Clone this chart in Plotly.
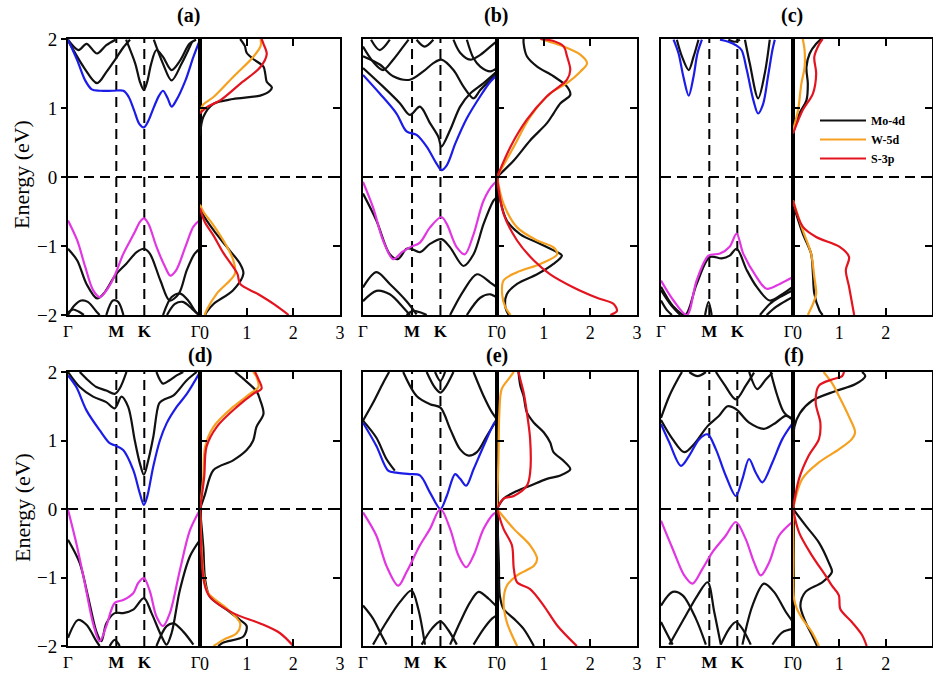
import plotly.graph_objects as go

# ---------------- data ----------------
KTICK_VALS = [0.0, 0.366, 0.578, 1.0]          # Γ, M, K, Γ along normalised k-path
KTICK_TEXT = ["Γ", "<b>M</b>", "<b>K</b>", "Γ\u2002"]
E_TICKS = [-2, -1, 0, 1, 2]
DOS_TICKS = [0, 1, 2, 3]
DOS_TICK_TEXT = ["\u20020", "1", "2", "3"]
PANEL_LABELS = ["(a)", "(b)", "(c)", "(d)", "(e)", "(f)"]
SPECIES = ["Mo-4d", "W-5d", "S-3p"]

# ----- panel (a) -----
A_BLUE = [(0.0, 1.99), (0.07, 1.69), (0.13, 1.40), (0.18, 1.27), (0.24, 1.25), (0.34, 1.25), (0.42, 1.25),
          (0.46, 1.16), (0.50, 0.97), (0.54, 0.77), (0.575, 0.72), (0.61, 0.82), (0.65, 1.01), (0.69, 1.18),
          (0.72, 1.25), (0.755, 1.14), (0.785, 1.02), (0.82, 1.11), (0.89, 1.40), (0.95, 1.74), (1.0, 1.99)]
A_MAGENTA = [(0.0, -0.63), (0.07, -0.92), (0.13, -1.30), (0.19, -1.64), (0.24, -1.74), (0.31, -1.59),
             (0.36, -1.40), (0.42, -1.11), (0.50, -0.82), (0.545, -0.65), (0.575, -0.60), (0.61, -0.68),
             (0.67, -1.01), (0.735, -1.30), (0.775, -1.43), (0.82, -1.35), (0.89, -1.01), (0.95, -0.72), (1.0, -0.62)]
A_BLACK = [
    [(0.0, -1.04), (0.07, -1.21), (0.14, -1.55), (0.22, -1.76), (0.27, -1.69), (0.36, -1.42), (0.44, -1.26),
     (0.52, -1.09), (0.575, -1.04), (0.62, -1.11), (0.70, -1.50), (0.77, -1.79), (0.84, -1.69), (0.90, -1.35),
     (0.96, -1.11), (1.0, -1.04)],
    [(0.0, -2.0), (0.05, -1.86), (0.10, -1.79), (0.15, -1.81), (0.22, -1.96), (0.24, -2.0)],
    [(0.0, -1.96), (0.04, -1.92), (0.08, -1.95), (0.12, -2.0)],
    [(0.29, -2.0), (0.34, -1.79), (0.38, -1.81), (0.42, -2.0)],
    [(0.72, -2.0), (0.785, -1.74), (0.85, -1.69), (0.91, -1.79), (0.97, -1.96), (1.0, -2.0)],
    [(0.75, -2.0), (0.81, -1.84), (0.87, -1.81), (0.94, -1.91), (0.99, -2.0)],
    [(0.0, 1.98), (0.12, 1.59), (0.22, 1.36), (0.29, 1.52), (0.36, 1.71), (0.42, 1.88), (0.47, 1.99)],
    [(0.44, 1.99), (0.51, 1.64), (0.545, 1.38), (0.575, 1.26), (0.60, 1.38), (0.63, 1.64), (0.67, 1.84),
     (0.72, 1.74), (0.785, 1.55), (0.85, 1.69), (0.92, 1.93), (0.97, 1.99)],
    [(0.65, 1.99), (0.72, 1.64), (0.785, 1.40), (0.86, 1.64), (0.94, 1.96)],
    [(0.0, 1.99), (0.08, 1.84), (0.14, 1.93), (0.22, 1.79), (0.29, 1.91), (0.36, 1.99)],
]
A_MO = [[(0, 0.6), (0.07, 0.87), (0.29, 1.06), (0.71, 1.13), (1.29, 1.18), (1.50, 1.25), (1.54, 1.30), (1.43, 1.38),
         (1.40, 1.49), (1.36, 1.60), (1.14, 1.71), (1.0, 1.80), (0.96, 1.90), (0.86, 2.0)],
        [(0, -0.43), (0.07, -0.55), (0.29, -0.77), (0.57, -1.01), (0.86, -1.26), (0.93, -1.40), (0.71, -1.64),
         (0.29, -1.84), (0.14, -1.96), (0.11, -2.0)]]
A_W = [[(0, 0.95), (0.07, 1.05), (0.29, 1.16), (0.71, 1.45), (1.14, 1.74), (1.30, 1.90), (1.30, 2.0)],
       [(0, -0.40), (0.07, -0.50), (0.29, -0.70), (0.57, -1.0), (0.71, -1.2), (0.75, -1.40), (0.36, -1.69),
        (0.14, -1.93), (0.1, -2.0)]]
A_S = [[(0, 0.92), (0.14, 1.01), (0.43, 1.11), (0.86, 1.35), (1.29, 1.59), (1.43, 1.78), (1.36, 1.93), (1.32, 2.0)],
       [(0, -0.45), (0.1, -0.65), (0.29, -0.85), (0.5, -1.1), (0.8, -1.4), (0.86, -1.55), (1.25, -1.7), (1.6, -1.85),
        (1.9, -2.0)]]

# ----- panel (b) -----
B_BLUE = [(0.0, 1.48), (0.125, 1.21), (0.25, 0.92), (0.325, 0.66), (0.40, 0.61), (0.475, 0.44), (0.55, 0.19),
          (0.585, 0.10), (0.625, 0.17), (0.69, 0.49), (0.775, 0.85), (0.875, 1.17), (0.95, 1.38), (1.0, 1.48)]
B_MAGENTA = [(0.0, -0.07), (0.075, -0.44), (0.15, -0.92), (0.225, -1.19), (0.29, -1.09), (0.35, -1.02),
             (0.425, -0.95), (0.50, -0.73), (0.585, -0.58), (0.625, -0.68), (0.70, -1.02), (0.76, -1.12),
             (0.825, -0.83), (0.90, -0.34), (0.975, -0.10), (1.0, -0.07)]
B_BLACK = [
    [(0.0, -0.24), (0.10, -0.63), (0.20, -1.12), (0.26, -1.19), (0.325, -1.04), (0.36, -1.04), (0.425, -1.09),
     (0.50, -0.97), (0.585, -0.90), (0.65, -1.02), (0.75, -1.29), (0.825, -1.12), (0.90, -0.68), (0.975, -0.34),
     (1.0, -0.29)],
    [(0.0, -1.60), (0.10, -1.38), (0.20, -1.55), (0.325, -1.80), (0.40, -1.99)],
    [(0.0, -1.80), (0.10, -1.65), (0.20, -1.70), (0.30, -1.89), (0.35, -2.0)],
    [(0.325, -2.0), (0.375, -1.94), (0.44, -1.97), (0.475, -2.0)],
    [(0.65, -2.0), (0.75, -1.65), (0.85, -1.41), (0.95, -1.53), (1.0, -1.60)],
    [(0.775, -2.0), (0.875, -1.75), (0.95, -1.70), (1.0, -1.75)],
    [(0.0, 1.58), (0.15, 1.31), (0.275, 1.07), (0.35, 0.90), (0.425, 1.02), (0.50, 0.78), (0.5625, 0.58),
     (0.585, 0.44), (0.65, 0.68), (0.725, 1.02), (0.80, 1.21), (0.90, 1.36), (1.0, 1.53)],
    [(0.0, 1.75), (0.125, 1.63), (0.225, 1.46), (0.35, 1.41), (0.45, 1.53), (0.525, 1.65), (0.585, 1.70),
     (0.675, 1.55), (0.75, 1.31), (0.825, 1.14), (0.875, 1.26), (0.95, 1.41), (1.0, 1.53)],
    [(0.0, 1.89), (0.075, 1.67), (0.15, 1.55), (0.225, 1.70), (0.30, 1.89), (0.34, 1.99)],
    [(0.06, 1.99), (0.125, 1.84), (0.20, 1.99)],
    [(0.775, 1.99), (0.825, 1.72), (0.875, 1.60), (0.95, 1.53), (1.0, 1.58)],
    [(0.40, 1.99), (0.46, 1.89), (0.525, 1.99)],
    [(0.675, 1.99), (0.725, 1.80), (0.80, 1.70), (0.875, 1.77), (0.95, 1.89), (1.0, 1.97)],
]
B_MO = [[(0, 0), (0.36, 0.24), (0.71, 0.53), (1.07, 0.78), (1.21, 0.92), (1.36, 1.07), (1.57, 1.19), (1.50, 1.31),
         (1.21, 1.46), (0.86, 1.60), (0.64, 1.75), (0.57, 1.94), (0.57, 2.0)],
        [(0, 0), (0.07, -0.34), (0.21, -0.63), (0.5, -0.83), (0.93, -0.97), (1.29, -1.09), (1.39, -1.14),
         (1.21, -1.26), (0.86, -1.41), (0.43, -1.55), (0.21, -1.70), (0.18, -1.89), (0.25, -2.0)]]
B_W = [[(0, 0), (0.36, 0.44), (0.71, 0.87), (1.14, 1.21), (1.5, 1.36), (1.79, 1.53), (1.93, 1.65), (1.79, 1.77),
        (1.43, 1.89), (1.07, 1.97), (0.93, 2.0)],
       [(0, 0), (0.14, -0.39), (0.43, -0.73), (0.86, -0.92), (1.21, -1.02), (1.29, -1.12), (0.93, -1.26),
        (0.43, -1.38), (0.14, -1.50), (0.11, -1.70), (0.18, -1.89), (0.29, -2.0)]]
B_S = [[(0, 0), (0.29, 0.44), (0.64, 0.83), (1.07, 1.17), (1.5, 1.41), (1.57, 1.55), (1.5, 1.75), (1.43, 1.89),
        (1.21, 1.97), (0.93, 2.0)],
       [(0, 0), (0.14, -0.53), (0.43, -0.92), (0.79, -1.21), (1.14, -1.41), (1.64, -1.60), (2.14, -1.75),
        (2.5, -1.84), (2.57, -1.94), (2.43, -2.0)]]

# ----- panel (c) -----
C_BLUE = [
    [(0.095, 1.99), (0.133, 1.79), (0.17, 1.45), (0.21, 1.18), (0.246, 1.45), (0.276, 1.79), (0.31, 1.99)],
    [(0.447, 1.99), (0.51, 1.96), (0.568, 1.91), (0.61, 1.84), (0.65, 1.55), (0.70, 1.11), (0.736, 0.92),
     (0.774, 1.06), (0.81, 1.45), (0.844, 1.84), (0.862, 1.99)],
]
C_MAGENTA = [(0.0, -1.50), (0.095, -1.79), (0.196, -2.0), (0.27, -1.50), (0.36, -1.14), (0.447, -1.11),
             (0.52, -1.01), (0.573, -0.82), (0.623, -1.11), (0.724, -1.45), (0.80, -1.62), (0.90, -1.55),
             (1.0, -1.45)]
C_BLACK = [
    [(0.12, 1.99), (0.16, 1.74), (0.21, 1.55), (0.246, 1.74), (0.284, 1.99)],
    [(0.636, 1.99), (0.673, 1.64), (0.736, 1.14), (0.786, 1.50), (0.824, 1.99)],
    [(0.51, 1.99), (0.56, 1.96), (0.598, 1.99)],
    [(0.0, -1.59), (0.095, -1.88), (0.183, -2.0), (0.27, -1.55), (0.37, -1.16), (0.46, -1.18), (0.52, -1.14),
     (0.573, -1.04), (0.65, -1.35), (0.724, -1.59), (0.824, -1.79), (0.925, -1.69), (1.0, -1.59)],
    [(0.0, -1.64), (0.07, -1.84), (0.146, -2.0)],
    [(0.0, -1.79), (0.045, -1.93), (0.083, -2.0)],
    [(0.334, -2.0), (0.36, -1.81), (0.384, -2.0)],
    [(0.75, -2.0), (0.824, -1.84), (0.90, -1.74), (1.0, -1.64)],
    [(0.80, -2.0), (0.874, -1.88), (0.95, -1.79), (1.0, -1.74)],
]
C_MO = [[(0, 0.63), (0.14, 0.92), (0.29, 1.11), (0.32, 1.35), (0.29, 1.59), (0.36, 1.79), (0.5, 1.93), (0.61, 2.0)],
        [(0, -0.39), (0.21, -0.82), (0.39, -1.11), (0.43, -1.40), (0.46, -1.69), (0.57, -1.93), (0.64, -2.0)]]
C_W = [[(0, 0.68), (0.11, 0.97), (0.18, 1.35), (0.25, 1.59), (0.25, 1.84), (0.21, 2.0)],
       [(0, -0.34), (0.21, -0.77), (0.39, -1.11), (0.46, -1.45), (0.5, -1.69), (0.43, -1.84), (0.32, -2.0)]]
C_S = [[(0, 0.63), (0.21, 0.97), (0.43, 1.21), (0.5, 1.50), (0.46, 1.74), (0.57, 1.93), (0.64, 2.0)],
       [(0, -0.34), (0.21, -0.72), (0.5, -0.87), (1.0, -1.01), (1.21, -1.16), (1.14, -1.35), (1.21, -1.59),
        (1.32, -2.0)]]

# ----- panel (d) -----
D_BLUE = [(0.0, 1.95), (0.063, 1.78), (0.14, 1.44), (0.24, 1.15), (0.316, 0.96), (0.354, 0.93), (0.418, 0.86),
          (0.494, 0.57), (0.544, 0.23), (0.575, 0.06), (0.60, 0.18), (0.646, 0.62), (0.696, 1.0), (0.747, 1.25),
          (0.823, 1.49), (0.90, 1.68), (1.0, 2.0)]
D_MAGENTA = [(0.0, -0.01), (0.063, -0.50), (0.127, -1.08), (0.19, -1.67), (0.24, -1.93), (0.29, -1.71),
             (0.354, -1.37), (0.418, -1.33), (0.494, -1.23), (0.532, -1.08), (0.575, -1.01), (0.62, -1.20),
             (0.67, -1.57), (0.72, -1.71), (0.772, -1.52), (0.848, -0.89), (0.924, -0.31), (1.0, -0.01)]
D_BLACK = [
    [(0.0, -0.45), (0.089, -0.79), (0.152, -1.28), (0.215, -1.79), (0.253, -1.93), (0.29, -1.67), (0.354, -1.52),
     (0.418, -1.52), (0.494, -1.47), (0.575, -1.30), (0.633, -1.52), (0.709, -1.86), (0.747, -1.98),
     (0.785, -1.81), (0.848, -1.18), (0.924, -0.69), (1.0, -0.45)],
    [(0.0, -1.88), (0.076, -1.62), (0.14, -1.69), (0.215, -1.93), (0.24, -2.0)],
    [(0.67, -2.0), (0.747, -1.71), (0.80, -1.67), (0.873, -1.79), (0.95, -1.98)],
    [(0.316, -2.0), (0.354, -1.91), (0.392, -2.0)],
    [(0.0, 2.0), (0.089, 1.78), (0.19, 1.64), (0.29, 1.56), (0.354, 1.47), (0.405, 1.64), (0.456, 1.49),
     (0.506, 1.0), (0.544, 0.67), (0.575, 0.50), (0.608, 0.71), (0.646, 1.05), (0.69, 1.54), (0.72, 1.59),
     (0.80, 1.66), (0.90, 1.88), (0.975, 2.0)],
    [(0.089, 2.0), (0.152, 1.88), (0.215, 1.78), (0.29, 1.73), (0.354, 1.68), (0.392, 1.76), (0.443, 2.0)],
    [(0.67, 2.0), (0.72, 1.83), (0.77, 1.88), (0.823, 1.95), (0.873, 2.0)],
]
D_MO = [[(0, 0), (0.1, 0.2), (0.29, 0.57), (0.71, 0.71), (1.0, 0.86), (1.14, 1.0), (1.21, 1.2), (1.36, 1.39),
         (1.29, 1.59), (1.21, 1.72), (0.93, 1.9), (0.75, 2.0)],
        [(0, 0), (0.07, -0.55), (0.11, -1.03), (0.21, -1.28), (0.57, -1.47), (0.86, -1.62), (1.0, -1.71),
         (0.93, -1.86), (0.5, -1.95), (0.39, -2.0)]]
D_W = [[(0, 0), (0.07, 0.47), (0.11, 0.91), (0.29, 1.20), (0.71, 1.49), (1.07, 1.68), (1.25, 1.78), (1.21, 1.93),
        (1.14, 2.0)],
       [(0, 0), (0.09, -1.03), (0.18, -1.23), (0.57, -1.45), (0.86, -1.67), (0.79, -1.81), (0.5, -1.91),
        (0.29, -2.0)]]
D_S = [[(0, 0), (0.09, 0.47), (0.14, 0.91), (0.36, 1.20), (0.79, 1.49), (1.14, 1.68), (1.32, 1.76), (1.25, 1.90),
        (1.18, 2.0)],
       [(0, 0), (0.09, -1.08), (0.21, -1.28), (0.71, -1.52), (1.29, -1.67), (1.71, -1.81), (2.0, -2.0)]]

# ----- panel (e) -----
E_BLUE = [(0.0, 1.26), (0.10, 0.92), (0.1875, 0.56), (0.25, 0.53), (0.35, 0.51), (0.425, 0.49), (0.50, 0.24),
          (0.578, 0.0), (0.625, 0.19), (0.6875, 0.51), (0.725, 0.44), (0.77, 0.34), (0.825, 0.58), (0.90, 0.92),
          (0.975, 1.24), (1.0, 1.31)]
E_MAGENTA = [(0.0, -0.05), (0.10, -0.39), (0.175, -0.83), (0.2625, -1.12), (0.325, -0.92), (0.425, -0.53),
             (0.50, -0.29), (0.578, 0.0), (0.65, -0.29), (0.7125, -0.68), (0.77, -0.85), (0.825, -0.68),
             (0.90, -0.29), (0.975, -0.07), (1.0, -0.05)]
E_BLACK = [
    [(0.0, 1.29), (0.075, 1.55), (0.15, 1.84), (0.195, 2.0)],
    [(0.0, 1.29), (0.10, 1.04), (0.175, 0.73), (0.2375, 0.56)],
    [(0.30, 2.0), (0.40, 1.65), (0.50, 1.53), (0.578, 1.48), (0.65, 1.17), (0.725, 0.87), (0.7875, 0.78),
     (0.85, 0.83), (0.925, 1.07), (1.0, 1.31)],
    [(0.475, 2.0), (0.5375, 1.77), (0.578, 1.70), (0.6125, 1.77), (0.675, 2.0)],
    [(0.5375, 2.0), (0.578, 1.87), (0.6125, 2.0)],
    [(0.825, 2.0), (0.90, 1.65), (0.9625, 1.41), (1.0, 1.31)],
    [(0.0, -1.41), (0.075, -1.60), (0.1375, -1.84), (0.175, -1.98)],
    [(0.075, -1.98), (0.175, -1.65), (0.275, -1.36), (0.3625, -1.19), (0.4125, -1.46), (0.4625, -1.98)],
    [(0.4375, -1.98), (0.5125, -1.75), (0.578, -1.64), (0.6375, -1.77), (0.70, -1.98)],
    [(0.65, -1.98), (0.725, -1.65), (0.80, -1.36), (0.8625, -1.21), (0.9375, -1.31), (1.0, -1.43)],
    [(0.825, -1.98), (0.90, -1.75), (0.9625, -1.60), (1.0, -1.55)],
]
E_MO = [[(0, 0), (0.14, 0.15), (0.36, 0.24), (0.71, 0.34), (1.07, 0.44), (1.36, 0.49), (1.57, 0.58), (1.43, 0.70),
         (1.21, 0.83), (1.14, 0.97), (1.0, 1.12), (0.79, 1.26), (0.64, 1.41), (0.57, 1.65), (0.5, 1.80),
         (0.46, 2.0)],
        [(0, 0), (0.04, -0.78), (0.06, -1.26), (0.14, -1.46), (0.36, -1.60), (0.57, -1.75), (0.79, -2.0)]]
E_W = [[(0, 0), (0.03, 0.7), (0.05, 1.4), (0.1, 1.75), (0.25, 1.9), (0.36, 2.0)],
       [(0, 0), (0.36, -0.29), (0.71, -0.53), (0.86, -0.73), (0.79, -0.83), (0.43, -0.97), (0.21, -1.12),
        (0.14, -1.36), (0.21, -1.65), (0.32, -1.84), (0.43, -2.0)]]
E_S = [[(0, 0), (0.14, 0.15), (0.36, 0.19), (0.64, 0.34), (0.71, 0.53), (0.71, 1.02), (0.64, 1.41), (0.57, 1.70),
        (0.5, 1.89), (0.46, 2.0)],
       [(0, 0), (0.14, -0.29), (0.32, -0.53), (0.36, -0.87), (0.43, -1.07), (0.71, -1.17), (1.0, -1.41),
        (1.29, -1.70), (1.71, -2.0)]]

# ----- panel (f) -----
F_BLUE = [(0.0, 1.24), (0.063, 0.97), (0.151, 0.63), (0.214, 0.78), (0.29, 1.02), (0.353, 1.09), (0.416, 0.87),
          (0.49, 0.49), (0.567, 0.19), (0.617, 0.44), (0.667, 0.73), (0.718, 0.53), (0.768, 0.39), (0.844, 0.68),
          (0.919, 1.02), (1.0, 1.26)]
F_MAGENTA = [(0.0, -0.17), (0.088, -0.58), (0.176, -0.97), (0.239, -1.09), (0.315, -0.87), (0.39, -0.63),
             (0.49, -0.39), (0.567, -0.19), (0.642, -0.44), (0.705, -0.78), (0.756, -0.97), (0.819, -0.78),
             (0.894, -0.39), (1.0, -0.18)]
F_BLACK = [
    [(0.0, 1.30), (0.088, 1.02), (0.176, 0.83), (0.252, 0.95), (0.353, 1.21), (0.44, 1.36), (0.504, 1.50),
     (0.567, 1.46), (0.668, 1.26), (0.78, 1.17), (0.87, 1.26), (0.945, 1.36), (1.0, 1.31)],
    [(0.0, 1.33), (0.063, 1.65), (0.126, 1.89), (0.159, 2.0)],
    [(0.416, 2.0), (0.479, 1.82), (0.567, 1.60), (0.642, 1.80), (0.705, 1.99)],
    [(0.668, 2.0), (0.73, 1.75), (0.794, 1.89), (0.844, 1.99)],
    [(0.831, 2.0), (0.882, 1.65), (0.932, 1.41), (1.0, 1.30)],
    [(0.214, 2.0), (0.277, 1.94), (0.34, 2.0)],
    [(0.0, -1.41), (0.088, -1.21), (0.164, -1.26), (0.264, -1.60), (0.34, -1.98)],
    [(0.063, -1.98), (0.189, -1.55), (0.277, -1.26), (0.353, -1.07), (0.403, -1.50), (0.453, -1.98)],
    [(0.453, -1.98), (0.516, -1.75), (0.567, -1.65), (0.617, -1.75), (0.68, -1.98)],
    [(0.617, -1.98), (0.693, -1.41), (0.78, -1.09), (0.856, -1.21), (0.945, -1.50), (1.0, -1.65)],
    [(0.0, -1.65), (0.05, -1.84), (0.088, -1.98)],
    [(0.844, -1.98), (0.919, -1.80), (1.0, -1.75)],
]
F_MO = [[(0, 0), (0.01, 0.6), (0.03, 1.2), (0.15, 1.4), (0.41, 1.58), (0.91, 1.72), (1.34, 1.82), (1.56, 1.94),
         (1.49, 2.0)],
        [(0, 0), (0.27, -0.24), (0.56, -0.49), (0.77, -0.78), (0.84, -0.92), (0.63, -1.07), (0.27, -1.21),
         (0.16, -1.41), (0.27, -1.65), (0.41, -1.84), (0.52, -2.0)]]
F_W = [[(0, 0), (0.2, 0.44), (0.56, 0.68), (0.99, 0.87), (1.27, 1.02), (1.34, 1.12), (1.2, 1.36), (0.99, 1.65),
        (0.84, 1.84), (0.66, 2.0)],
       [(0, 0), (0.01, -0.7), (0.02, -1.3), (0.08, -1.45), (0.2, -1.60), (0.41, -1.80), (0.56, -2.0)]]
F_S = [[(0, 0), (0.13, 0.44), (0.34, 0.78), (0.56, 1.02), (0.59, 1.26), (0.49, 1.55), (0.56, 1.80), (0.84, 1.89),
        (1.06, 1.94), (1.1, 2.0)],
       [(0, 0), (0.13, -0.34), (0.41, -0.68), (0.7, -0.97), (0.84, -1.12), (0.99, -1.26), (1.02, -1.46),
        (1.27, -1.65), (1.49, -1.84), (1.59, -2.0)]]

# ---------------- figure construction ----------------
W, H = 933, 673
BLACK, BLUE, MAGENTA, ORANGE, RED = "#111111", "#1c1ce8", "#e236e2", "#f6a020", "#e3141f"
SERIF = "Liberation Serif, Times New Roman, serif"

PANELS = [
    (A_BLUE, A_MAGENTA, A_BLACK, A_MO, A_W, A_S),
    (B_BLUE, B_MAGENTA, B_BLACK, B_MO, B_W, B_S),
    (C_BLUE, C_MAGENTA, C_BLACK, C_MO, C_W, C_S),
    (D_BLUE, D_MAGENTA, D_BLACK, D_MO, D_W, D_S),
    (E_BLUE, E_MAGENTA, E_BLACK, E_MO, E_W, E_S),
    (F_BLUE, F_MAGENTA, F_BLACK, F_MO, F_W, F_S),
]

COLS_PX = [(68, 200, 340), (363, 497, 637), (661, 793, 932)]
ROWS_PX = [(39, 315), (372, 646)]
LABEL_PX = [(188, 15), (496, 15), (792, 15), (200, 355), (497, 355), (794, 355)]

fig = go.Figure()


def xy(pts):
    return [p[0] for p in pts], [p[1] for p in pts]


def add_line(pts, color, xa, ya, name=None, legend=False, width=2.2):
    x, y = xy(pts)
    fig.add_trace(go.Scatter(x=x, y=y, mode="lines", name=name, showlegend=legend,
                             line=dict(color=color, width=width, shape="spline", smoothing=0.9),
                             xaxis=xa, yaxis=ya, hoverinfo="skip"))


layout = {}
shapes = []
annotations = []
for p, (blue, magenta, blacks, mo, w5, s3) in enumerate(PANELS):
    r, c = divmod(p, 3)
    xl, xm, xr = COLS_PX[c]
    yt, yb = ROWS_PX[r]
    nb, nd = 2 * p + 1, 2 * p + 2
    xb = "x" if nb == 1 else f"x{nb}"
    yb_ = "y" if nb == 1 else f"y{nb}"
    xd, yd = f"x{nd}", f"y{nd}"
    ydom = [1 - yb / H, 1 - yt / H]

    # band structure
    for band in blacks:
        add_line(band, BLACK, xb, yb_)
    if blue and isinstance(blue[0], list):
        for seg in blue:
            add_line(seg, BLUE, xb, yb_)
    else:
        add_line(blue, BLUE, xb, yb_)
    add_line(magenta, MAGENTA, xb, yb_)

    # DOS
    for color, dos, nm in ((BLACK, mo, SPECIES[0]), (ORANGE, w5, SPECIES[1]), (RED, s3, SPECIES[2])):
        for i, seg in enumerate(dos):
            add_line(seg, color, xd, yd, name=nm, legend=(p == 2 and i == 0))

    show_y = c == 0
    layout["xaxis" if nb == 1 else f"xaxis{nb}"] = dict(
        domain=[xl / W, xm / W], range=[0, 1], tickvals=KTICK_VALS, ticktext=KTICK_TEXT, ticks="",
        showline=True, mirror=True, linecolor="black", linewidth=2, showgrid=False, zeroline=False,
        tickfont=dict(family=SERIF, size=17, color="black"), anchor=yb_, fixedrange=True, automargin=False)
    layout["yaxis" if nb == 1 else f"yaxis{nb}"] = dict(
        domain=ydom, range=[-2, 2], tickvals=E_TICKS, showticklabels=show_y,
        ticks="outside" if show_y else "", ticklen=5, tickwidth=2, tickcolor="black",
        showline=True, mirror=True, linecolor="black", linewidth=2, showgrid=False, zeroline=False,
        tickfont=dict(family=SERIF, size=19, color="black"), anchor=xb, fixedrange=True, automargin=False)
    layout[f"xaxis{nd}"] = dict(
        domain=[xm / W, xr / W], range=[0, 3], tickvals=DOS_TICKS, ticktext=DOS_TICK_TEXT, ticks="inside",
        ticklen=7, tickwidth=2, tickcolor="black", showline=True, mirror="ticks", linecolor="black", linewidth=2,
        showgrid=False, zeroline=False, tickfont=dict(family=SERIF, size=18, color="black"), anchor=yd,
        fixedrange=True, automargin=False)
    layout[f"yaxis{nd}"] = dict(
        domain=ydom, range=[-2, 2], tickvals=E_TICKS, showticklabels=False, side="right", ticks="inside",
        ticklen=7, tickwidth=2, tickcolor="black", showline=True, mirror="ticks", linecolor="black", linewidth=2,
        showgrid=False, zeroline=False, anchor=xd, fixedrange=True, automargin=False)

    # dashed guide lines
    dash = "10px,6px"
    for kv in KTICK_VALS[1:3]:
        shapes.append(dict(type="line", xref=xb, yref=yb_, x0=kv, x1=kv, y0=-2, y1=2,
                           line=dict(color="black", width=2, dash=dash), layer="below"))
    for xr_ref, yr_ref in ((xb, yb_), (xd, yd)):
        shapes.append(dict(type="line", xref=f"{xr_ref} domain", yref=yr_ref, x0=0, x1=1, y0=0, y1=0,
                           line=dict(color="black", width=2, dash=dash), layer="below"))

    lx, ly = LABEL_PX[p]
    annotations.append(dict(text=f"<b>{PANEL_LABELS[p]}</b>", x=lx / W, y=1 - ly / H, xref="paper", yref="paper",
                            showarrow=False, font=dict(family=SERIF, size=20, color="black"),
                            xanchor="center", yanchor="middle"))

for yc in (175, 508):
    annotations.append(dict(text="Energy (eV)", x=22 / W, y=1 - yc / H, xref="paper", yref="paper",
                            showarrow=False, textangle=-90, font=dict(family=SERIF, size=22, color="black"),
                            xanchor="center", yanchor="middle"))

fig.update_layout(
    **layout,
    width=W, height=H, autosize=False,
    margin=dict(l=0, r=0, t=0, b=0, autoexpand=False),
    paper_bgcolor="white", plot_bgcolor="white",
    shapes=shapes, annotations=annotations,
    showlegend=True,
    legend=dict(x=815 / W, y=1 - 106 / H, xanchor="left", yanchor="top", bgcolor="rgba(0,0,0,0)",
                borderwidth=0, font=dict(family=SERIF, size=12, color="black", weight="bold"),
                tracegroupgap=0, itemwidth=46),
)

fig.write_html("out.html")
